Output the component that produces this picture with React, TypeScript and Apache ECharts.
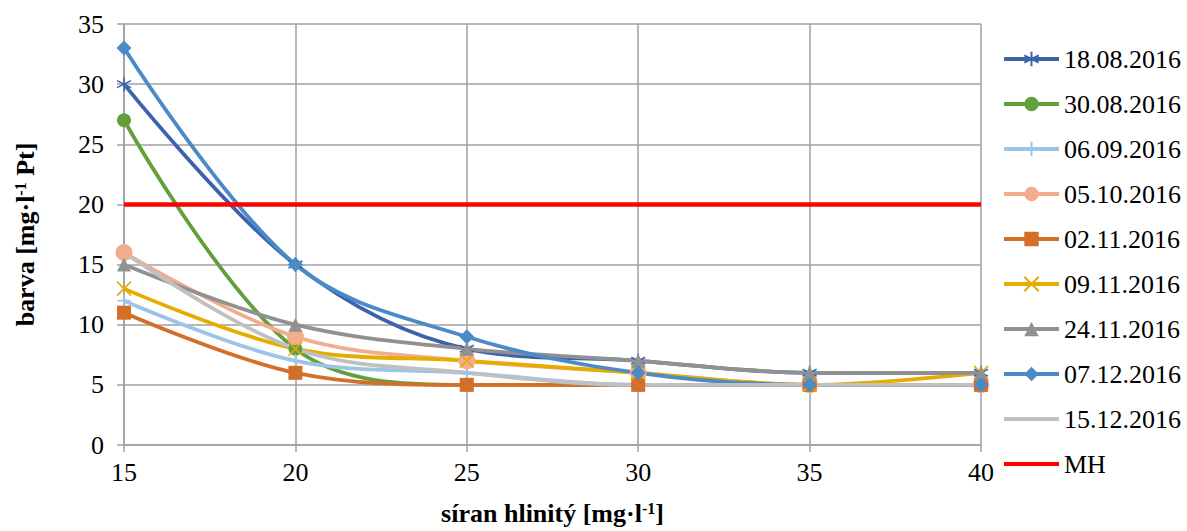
import React, { useEffect, useRef } from "react";
import * as echarts from "echarts";

const xValues = [15, 20, 25, 30, 35, 40];
const seriesNames = [
  "18.08.2016",
  "30.08.2016",
  "06.09.2016",
  "05.10.2016",
  "02.11.2016",
  "09.11.2016",
  "24.11.2016",
  "07.12.2016",
  "15.12.2016",
  "MH",
];
const s1808 = [30, 15, 8, 7, 6, 6];
const s3008 = [27, 8, 5, 5, 5, 5];
const s0609 = [12, 7, 6, 5, 5, 5];
const s0510 = [16, 9, 7, 6, 5, 5];
const s0211 = [11, 6, 5, 5, 5, 5];
const s0911 = [13, 8, 7, 6, 5, 6];
const s2411 = [15, 10, 8, 7, 6, 6];
const s0712 = [33, 15, 9, 6, 5, 5];
const s1512 = [16, 8, 6, 5, 5, 5];
const sMH = [20, 20, 20, 20, 20, 20];
const seriesData = [s1808, s3008, s0609, s0510, s0211, s0911, s2411, s0712, s1512, sMH];

const colors = [
  "#3D62AD",
  "#62A03B",
  "#9DC3E6",
  "#F4AC8E",
  "#D46F2A",
  "#E6AC00",
  "#919191",
  "#4A8AC6",
  "#C0C0C0",
  "#FF0000",
];

const STAR = "path://M5 0 L5 10 M0.7 2.5 L9.3 7.5 M9.3 2.5 L0.7 7.5";
const PLUS = "path://M5 0 L5 10 M0 5 L10 5";
const CROSS = "path://M0 0 L10 10 M10 0 L0 10";

const symbols = [STAR, "circle", PLUS, "circle", "rect", CROSS, "triangle", "diamond", "none", "none"];
const symbolSizes = [14, 14, 13, 17, 14, 14, 14, 15, 0, 0];

const FONT = "Liberation Serif";

export default function App() {
  const ref = useRef<HTMLDivElement>(null);
  useEffect(() => {
    if (!ref.current) return;
    const chart = echarts.init(ref.current, null, { renderer: "svg" });
    const series = seriesNames.map((name, i) => {
      const isOpen = symbols[i].startsWith("path://");
      return {
        name,
        type: "line",
        data: xValues.map((x, j) => [x, seriesData[i][j]]),
        smooth: name === "MH" ? false : 0.35,
        symbol: symbols[i],
        symbolSize: symbolSizes[i],
        showSymbol: symbols[i] !== "none",
        lineStyle: { color: colors[i], width: name === "MH" ? 4.5 : 3.8 },
        itemStyle: {
          color: isOpen ? "none" : colors[i],
          borderColor: colors[i],
          borderWidth: isOpen ? 1.6 : 0,
        },
        emphasis: { disabled: true },
      };
    });
    const legendData = seriesNames.map((name, i) =>
      symbols[i] === "none"
        ? { name, itemStyle: { color: "rgba(0,0,0,0)", borderWidth: 0, opacity: 0 } }
        : { name }
    );
    const titleRich = {
      a: { fontFamily: FONT, fontSize: 26, fontWeight: "bold", color: "#000", lineHeight: 26 },
      s: { fontFamily: FONT, fontSize: 16, fontWeight: "bold", color: "#000", lineHeight: 14, verticalAlign: "top" },
    };
    chart.setOption({
      animation: false,
      textStyle: { fontFamily: FONT },
      grid: { left: 124, right: 206, top: 24, bottom: 84, containLabel: false },
      legend: {
        orient: "vertical",
        left: 997,
        top: 41,
        itemWidth: 55,
        itemHeight: 18,
        itemGap: 19,
        lineStyle: { width: 4 },
        textStyle: { fontFamily: FONT, fontSize: 26, color: "#000", lineHeight: 26 },
        data: legendData,
      },
      xAxis: {
        type: "value",
        min: 15,
        max: 40,
        interval: 5,
        name: "{a|síran hlinitý [mg·l}{s|-1}{a|]}",
        nameLocation: "middle",
        nameGap: 55,
        nameTextStyle: { fontFamily: FONT, rich: titleRich },
        axisLine: { show: true, lineStyle: { color: "#A0A0A0", width: 1.5 } },
        axisTick: { show: true, length: 7, lineStyle: { color: "#A0A0A0", width: 1.5 } },
        axisLabel: { fontFamily: FONT, fontSize: 26, color: "#000", margin: 14 },
        splitLine: { show: true, lineStyle: { color: "#A0A0A0", width: 1.5 } },
      },
      yAxis: {
        type: "value",
        min: 0,
        max: 35,
        interval: 5,
        name: "{a|barva [mg·l}{s|-1}{a| Pt]}",
        nameLocation: "middle",
        nameRotate: 90,
        nameGap: 86,
        nameTextStyle: { fontFamily: FONT, rich: titleRich },
        axisLine: { show: true, lineStyle: { color: "#A0A0A0", width: 1.5 } },
        axisTick: { show: true, length: 7, lineStyle: { color: "#A0A0A0", width: 1.5 } },
        axisLabel: { fontFamily: FONT, fontSize: 26, color: "#000", margin: 20 },
        splitLine: { show: true, lineStyle: { color: "#A0A0A0", width: 1.5 } },
      },
      series,
    });
    return () => chart.dispose();
  }, []);
  return (
    <div
      ref={ref}
      style={{ position: "absolute", left: 0, top: 0, width: 1187, height: 531, overflow: "hidden" }}
    />
  );
}
